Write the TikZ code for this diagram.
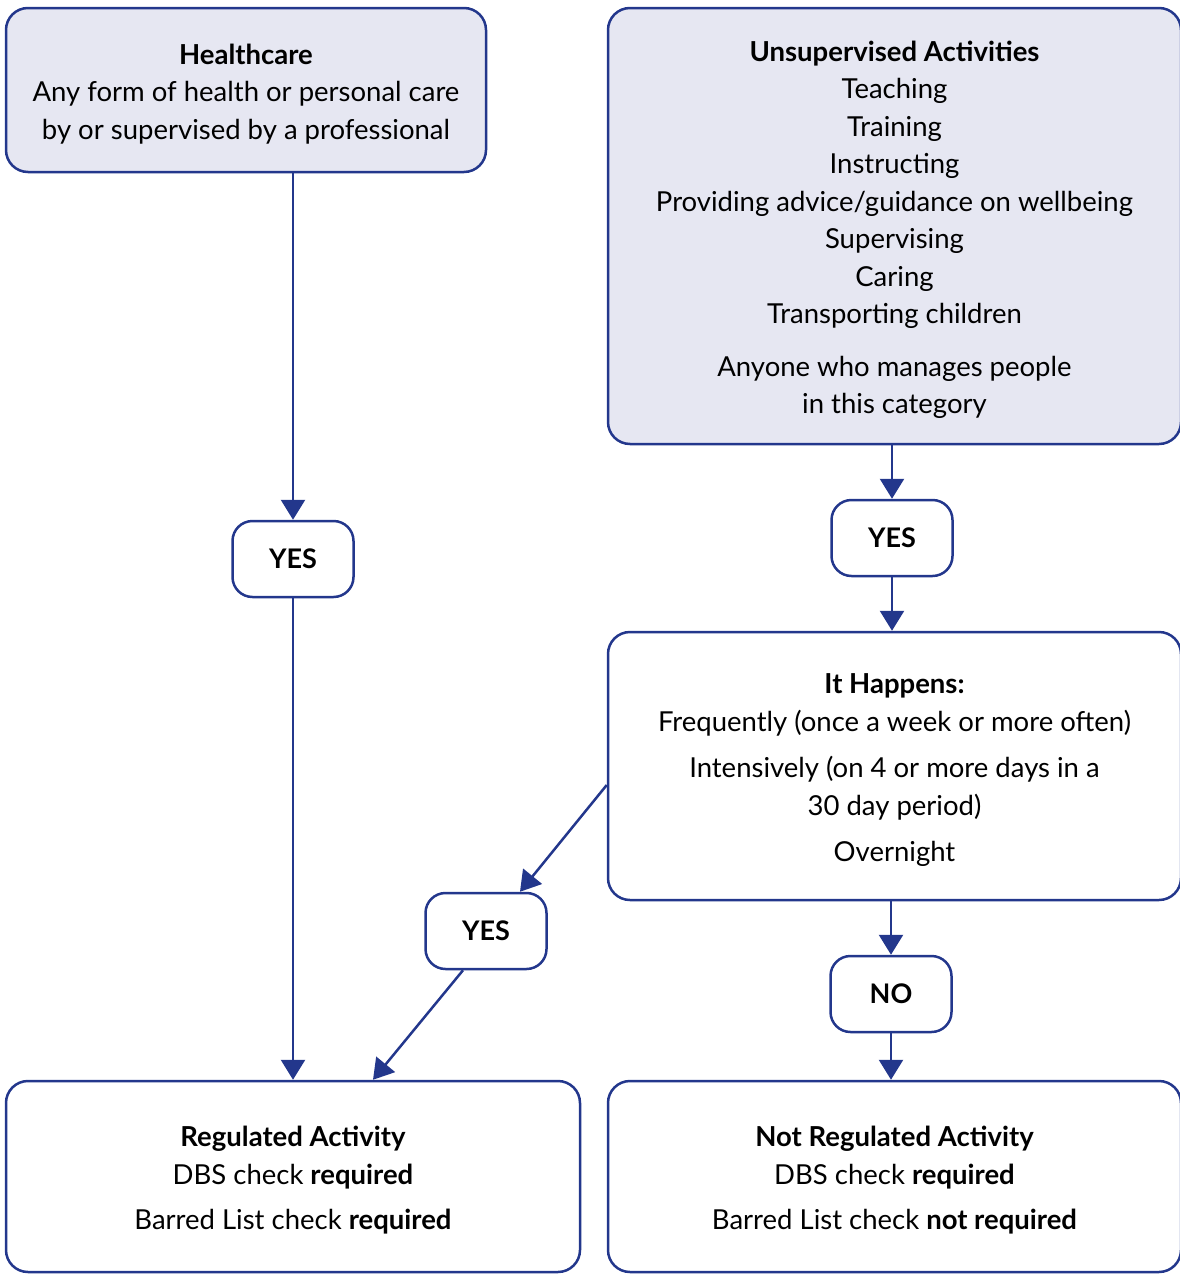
\documentclass[tikz,border=0pt]{standalone}
\usepackage{fontspec}
\setmainfont{Lato}
\usetikzlibrary{arrows.meta,positioning}
\definecolor{navy}{RGB}{35,55,140}
\definecolor{lilac}{RGB}{230,231,242}
\newcommand\dropline{\vphantom{\raisebox{8pt}{l}}}
\tikzset{
  box/.style={draw=navy,line width=2.5pt,rounded corners=22pt,align=center,
    font=\fontsize{27.5}{37.5}\selectfont,inner sep=0pt},
  shaded/.style={box,fill=lilac},
  answer/.style={box,rounded corners=20pt,minimum width=121pt,minimum height=76pt,
    font=\fontsize{27}{30}\selectfont\bfseries},
  flow/.style={draw=navy,line width=2.5pt,-{Triangle[width=24pt,length=20pt]}}
}
\begin{document}
\begin{tikzpicture}[x=1pt,y=-1pt]
  \useasboundingbox (0,0) rectangle (1179,1282);

  \node[shaded,minimum width=480pt,minimum height=164pt] (health) at (246,90)
    {\dropline\textbf{Healthcare}\\Any form of health or personal care\\by or supervised by a professional};
  \node[shaded,minimum width=573pt,minimum height=436pt] (unsup) at (894.5,226)
    {\dropline\textbf{Unsupervised Activities}\\Teaching\\Training\\Instructing\\
     Providing advice/guidance on wellbeing\\Supervising\\Caring\\
     Transporting children\\[15pt]Anyone who manages people\\in this category};

  \node[answer] (yesA) at (293,559) {YES};
  \node[answer] (yesB) at (892,538) {YES};

  \node[box,minimum width=573pt,minimum height=268pt] (happens) at (894.5,766)
    {\dropline\textbf{It Happens:}\\Frequently (once a week or more often)\\[9pt]
     Intensively (on 4 or more days in a\\30 day period)\\[9pt]Overnight};

  \node[answer] (yesC) at (486,931) {YES};
  \node[answer] (no) at (891,994) {NO};

  \node[box,minimum width=574pt,minimum height=191pt] (reg) at (293,1176.5)
    {\dropline\textbf{Regulated Activity}\\DBS check \textbf{required}\\[8pt]
     Barred List check \textbf{required}};
  \node[box,minimum width=573pt,minimum height=191pt] (notreg) at (894.5,1176.5)
    {\dropline\textbf{Not Regulated Activity}\\DBS check \textbf{required}\\[8pt]
     Barred List check \textbf{not required}};

  % connectors
  \draw[flow] (health.south -| yesA) -- (yesA.north);
  \draw[flow] (yesA.south) -- (reg.north);
  \draw[flow] (unsup.south -| yesB) -- (yesB.north);
  \draw[flow] (yesB.south) -- (happens.north -| yesB);
  \draw[flow] ([yshift=-19pt]happens.west) -- ([xshift=34pt]yesC.north);
  \draw[flow] ([xshift=-23pt]yesC.south) -- ([xshift=80pt]reg.north);
  \draw[flow] (happens.south -| no) -- (no.north);
  \draw[flow] (no.south) -- (notreg.north -| no);
\end{tikzpicture}
\end{document}
